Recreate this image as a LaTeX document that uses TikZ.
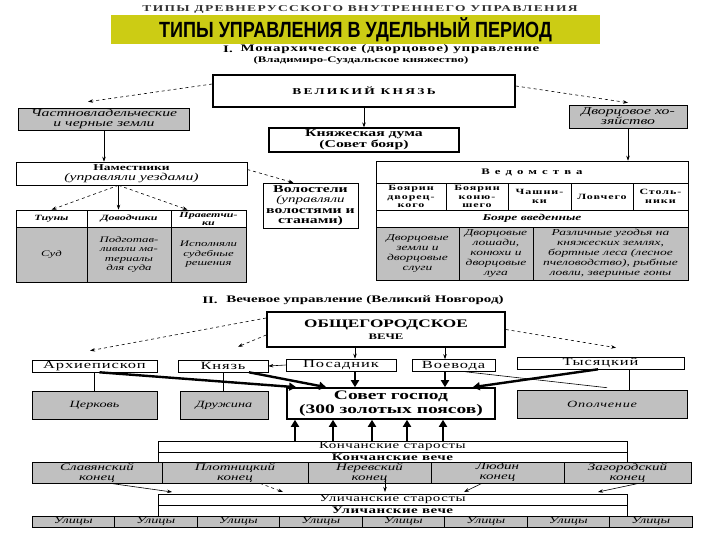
\documentclass[tikz,border=0pt]{standalone}
\usepackage{fontspec}
\setmainfont[FakeStretch=1.5]{Liberation Serif}
\newfontfamily\titlefont[FakeStretch=0.82]{Liberation Sans}
\usetikzlibrary{arrows.meta,calc}
\definecolor{boxgrey}{RGB}{192,192,192}
\definecolor{bannercol}{RGB}{204,204,20}
\newcommand{\fsz}[2]{\fontsize{#1}{#2}\selectfont}
\newcommand{\lsp}[1]{\addfontfeature{LetterSpace=#1}}
\tikzset{sz/.style 2 args={minimum width=#1pt, minimum height=#2pt},
  box/.style={draw, line width=.6pt, fill=white, inner sep=0pt, align=center, font=\fsz{9}{10}\bfseries},
  fatbox/.style={box, line width=1.6pt},
  greybox/.style={box, fill=boxgrey, font=\fsz{9.5}{10}\itshape},
  hcell/.style={box, font=\fsz{8}{8}\bfseries\itshape},
  gcell/.style={greybox, font=\fsz{8.5}{9.5}\itshape},
  plain/.style={box, font=\fsz{11}{11}\lsp{8}},
  head/.style={inner sep=0pt, font=\fsz{10}{10}\bfseries},
  arr/.style={-{Stealth[length=5pt,width=3.5pt]}, line width=.6pt},
  dasharr/.style={arr, dashed},
  fatarr/.style={-{Triangle[length=7pt,width=8pt]}, line width=2.4pt},
  link/.style={line width=.6pt}}
\begin{document}
\begin{tikzpicture}[x=1pt,y=-1pt]
  \useasboundingbox[fill=white] (0,0) rectangle (720,540);
  % heading
  \node[head, font=\fsz{9}{9}\bfseries\lsp{15}, text=black!80] (oldtitle) at (360,9.5) {ТИПЫ ДРЕВНЕРУССКОГО ВНУТРЕННЕГО УПРАВЛЕНИЯ};
  \node[fill=bannercol, sz={489}{29}, inner sep=0pt, font=\titlefont\bfseries\fsz{22}{22}] (title) at (355.5,29.5) {ТИПЫ УПРАВЛЕНИЯ В УДЕЛЬНЫЙ ПЕРИОД};
  \node[head] (num1) at (228,49) {I.};
  \node[head, font=\fsz{10}{10}\bfseries\lsp{8}] (sec1) at (390,49) {Монархическое (дворцовое) управление};
  \node[head, font=\fsz{8.5}{9}\bfseries] (sec1b) at (361,60) {(Владимиро-Суздальское княжество)};
  % I. monarchy
  \node[fatbox, sz={302}{32}, font=\fsz{9}{9}\bfseries\lsp{25}] (vk) at (364,91) {ВЕЛИКИЙ КНЯЗЬ};
  \node[greybox, sz={171}{22}, font=\fsz{10.5}{10}\itshape] (zemli) at (104,119) {Частновладельческие\\и черные земли};
  \node[greybox, sz={118}{23}, font=\fsz{10.5}{10}\itshape] (dvor) at (628,116.5) {Дворцовое хо-\\зяйство};
  \node[box, sz={190}{24}, line width=1.2pt, font=\fsz{10.5}{11}\bfseries] (duma) at (364,140) {Княжеская дума\\(Совет бояр)};
  \node[box, sz={231}{23}] (nam) at (131.5,173.5) {Наместники\\\normalfont\itshape\fsz{10.5}{10}(управляли уездами)};
  \node[box, sz={95}{45}, font=\fsz{10.5}{10.5}\bfseries] (vol) at (310.5,205.5) {Волостели\\\normalfont\itshape\fsz{10}{10.5}(управляли\\волостями и\\станами)};
  \node[hcell, sz={71}{17}] (tiuny) at (51.5,218.5) {Тиуны};
  \node[hcell, sz={84}{17}] (dovod) at (129,218.5) {Доводчики};
  \node[hcell, sz={75}{17}] (pravet) at (208.5,218.5) {Праветчи-\\ки};
  \node[gcell, sz={71}{55}] (sud) at (51.5,254.5) {Суд};
  \node[gcell, sz={84}{55}] (podg) at (129,254.5) {Подготав-\\ливали ма-\\териалы\\для суда};
  \node[gcell, sz={75}{55}] (ispol) at (208.5,254.5) {Исполняли\\судебные\\решения};
  \node[box, sz={312}{22}, font=\fsz{8.5}{9}\bfseries\lsp{60}] (vedhead) at (532,172) {Ведомства};
  \node[box, sz={70}{27}, font=\fsz{8}{8.5}\bfseries\lsp{12}] (b1) at (411,196.5) {Боярин\\дворец-\\кого};
  \node[box, sz={62}{27}, font=\fsz{8}{8.5}\bfseries\lsp{12}] (b2) at (477,196.5) {Боярин\\коню-\\шего};
  \node[box, sz={63}{27}, font=\fsz{8}{8.5}\bfseries\lsp{12}] (b3) at (539.5,196.5) {Чашни-\\ки};
  \node[box, sz={62}{27}, font=\fsz{8}{8.5}\bfseries\lsp{12}] (b4) at (602,196.5) {Ловчего};
  \node[box, sz={55}{27}, font=\fsz{8}{8.5}\bfseries\lsp{12}] (b5) at (660.5,196.5) {Столь-\\ники};
  \node[hcell, sz={312}{17}, font=\fsz{9}{9}\bfseries\itshape] (vved) at (532,218.5) {Бояре введенные};
  \node[gcell, sz={83}{53}, font=\fsz{9}{10}\itshape] (d1) at (417.5,253.5) {Дворцовые\\земли и\\дворцовые\\слуги};
  \node[gcell, sz={74}{53}, font=\fsz{9}{10}\itshape] (d2) at (496,253.5) {Дворцовые\\лошади,\\конюхи и\\дворцовые\\луга};
  \node[gcell, sz={155}{53}, font=\fsz{9}{10}\itshape] (d3) at (610.5,253.5) {Различные угодья на\\княжеских землях,\\бортные леса (лесное\\пчеловодство), рыбные\\ловли, звериные гоны};
  \draw[dasharr] ([yshift=7pt]vk.west) -- ([xshift=-16pt,yshift=6pt]zemli.north);
  \draw[dasharr] ([yshift=5pt]vk.east) -- ([yshift=2pt]dvor.north);
  \draw[arr] (vk.south) -- (duma.north);
  \draw[arr] (zemli.south) -- (zemli.south |- nam.north);
  \draw[arr] (dvor.south) -- (dvor.south |- vedhead.north);
  \draw[dasharr] ([yshift=4pt]nam.east) -- ([xshift=-17pt]vol.north);
  \coordinate (ns) at ([xshift=-13pt]nam.south);
  \draw[dasharr] (ns) -- (tiuny.north);
  \draw[arr] (ns) -- (ns |- dovod.north);
  \draw[dasharr] (ns) -- ([xshift=-21pt]pravet.north);
  % II. veche
  \node[head] (num2) at (210,300) {II.};
  \node[head] (sec2) at (365,300) {Вечевое управление (Великий Новгород)};
  \node[fatbox, sz={238}{35}, font=\fsz{11.5}{12}\bfseries] (veche) at (386,329.5) {ОБЩЕГОРОДСКОЕ\\\fsz{8.5}{9}ВЕЧЕ};
  \node[plain, sz={125}{12}] (arch) at (94.5,366) {Архиепископ};
  \node[plain, sz={90}{12}] (knyaz) at (223,366) {Князь};
  \node[plain, sz={110}{12}] (posad) at (341,365) {Посадник};
  \node[plain, sz={83}{12}] (voev) at (453.5,365.5) {Воевода};
  \node[plain, sz={167}{12}] (tys) at (600.5,363) {Тысяцкий};
  \node[greybox, sz={125}{28}] (cerk) at (94.5,405) {Церковь};
  \node[greybox, sz={88}{28}] (druzh) at (224,405) {Дружина};
  \node[greybox, sz={170}{28}, font=\fsz{9.5}{10}\itshape\lsp{8}] (opol) at (602,404) {Ополчение};
  \coordinate (p1) at (355,0);
  \coordinate (p2) at (445,0);
  \coordinate (p3) at (629,0);
  \draw[link] (arch.south) -- (cerk.north);
  \draw[link] (knyaz.south) -- (knyaz.south |- druzh.north);
  \draw[link] (tys.south -| p3) -- (opol.north -| p3);
  \draw[link] ([xshift=12pt]voev.south) -- ([xshift=5pt,yshift=2pt]opol.north);
  \node[fatbox, sz={208}{31}, font=\fsz{13}{14}\bfseries] (sovet) at (391,403.5) {Совет господ\\(300 золотых поясов)};
  \draw[dasharr] ([yshift=11.5pt]veche.west) -- ([xshift=-4.5pt,yshift=9pt]arch.north);
  \draw[dasharr] ([yshift=-5.5pt]veche.west) -- ([xshift=15pt,yshift=13pt]knyaz.north);
  \draw[dasharr] (veche.east) -- ([xshift=15.5pt,yshift=9pt]tys.north);
  \draw[arr] (veche.south -| p1) -- (posad.north -| p1);
  \draw[arr] (veche.south -| p2) -- (voev.north -| p2);
  \draw[arr] (posad.west) -- (knyaz.east);
  \draw[fatarr] ([xshift=5pt]arch.south) -- ([xshift=10pt]sovet.north west);
  \draw[fatarr] ([xshift=26pt]knyaz.south) -- ([xshift=40pt]sovet.north west);
  \draw[fatarr] (posad.south -| p1) -- (sovet.north -| p1);
  \draw[fatarr] (voev.south -| p2) -- (sovet.north -| p2);
  \draw[fatarr] ([xshift=-2.5pt]tys.south) -- ([xshift=-23pt]sovet.north east);
  % ends and streets
  \node[box, sz={469}{11}, font=\fsz{10}{10}\lsp{5}] (kst) at (392.5,446.5) {Кончанские старосты};
  \node[box, sz={469}{10}, font=\fsz{10}{10}\bfseries\lsp{5}] (kvec) at (392.5,457) {Кончанские вече};
  \node[gcell, sz={130}{21}, font=\fsz{10}{10}\itshape] (slav) at (97,472.5) {Славянский\\конец};
  \node[gcell, sz={146}{21}, font=\fsz{10}{10}\itshape] (plot) at (235,472.5) {Плотницкий\\конец};
  \node[gcell, sz={123}{21}, font=\fsz{10}{10}\itshape] (nerev) at (369.5,472.5) {Неревский\\конец};
  \node[gcell, sz={133}{21}, font=\fsz{10}{10}\itshape] (lyud) at (497.5,472.5) {Людин\\конец};
  \node[gcell, sz={127}{21}, font=\fsz{10}{10}\itshape] (zagor) at (627.5,472.5) {Загородский\\конец};
  \foreach \x in {295,333,372,407,443}
    \draw[fatarr] (kst.north -| \x,0) -- (sovet.south -| \x,0);
  \node[box, sz={469}{11}, font=\fsz{10}{10}\lsp{5}] (ust) at (392.5,499.5) {Уличанские старосты};
  \node[box, sz={469}{11}, font=\fsz{10}{10}\bfseries\lsp{5}] (uvec) at (392.5,510.5) {Уличанские вече};
  \foreach \i in {0,...,7}
    \node[gcell, sz={82.5}{11}, font=\fsz{9.5}{10}\itshape] (ul\i) at ({73.25+82.5*\i},521.5) {Улицы};
  \coordinate (t1) at (172,492);
  \coordinate (t2) at (283,492);
  \coordinate (t3) at (385,492);
  \coordinate (t4) at (464,492);
  \coordinate (t5) at (598,492);
  \draw[arr] ([xshift=13pt]slav.south) -- (t1);
  \draw[dasharr] ([xshift=25pt]plot.south) -- (t2);
  \draw[arr] ([xshift=15.5pt,yshift=5pt]nerev.south) -- (t3);
  \draw[arr] ([xshift=-15.5pt]lyud.south) -- (t4);
  \draw[arr] ([xshift=11.5pt]zagor.south) -- (t5);
\end{tikzpicture}
\end{document}
